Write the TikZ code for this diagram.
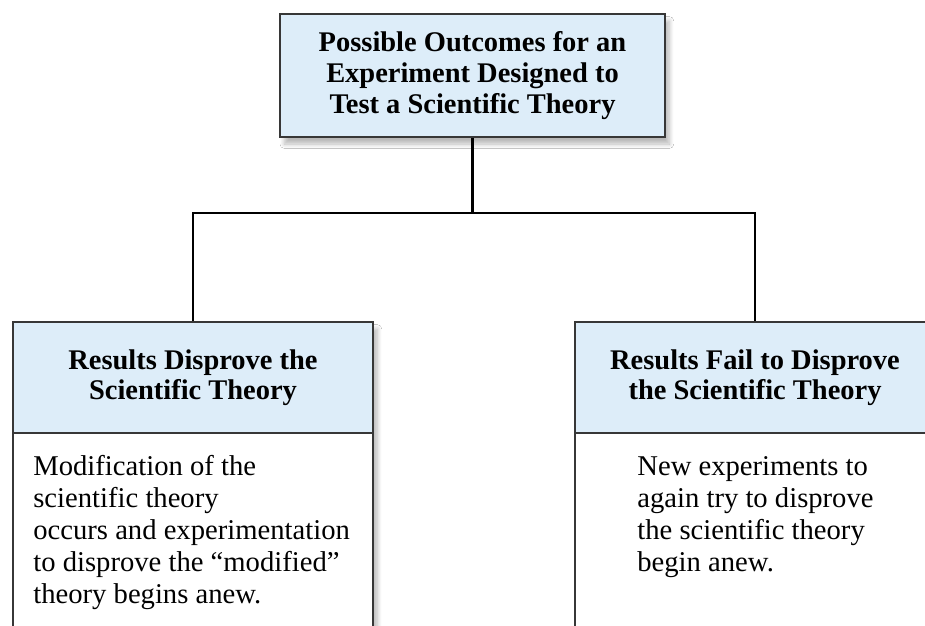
\documentclass[tikz,border=0pt]{standalone}
\usepackage{fontspec}
\setmainfont{Liberation Serif}
\usetikzlibrary{shadows.blur}

\definecolor{boxblue}{RGB}{221,237,249}
\definecolor{edgegray}{RGB}{55,55,55}

\begin{document}
\begin{tikzpicture}
	[x=0.02cm, y=-0.02cm,
	 boxshadow/.style={blur shadow={shadow xshift=2.5pt, shadow yshift=-4pt, shadow blur radius=2.5pt, shadow blur steps=8, shadow opacity=28}},
	 titlebox/.style={draw=edgegray, line width=1pt, fill=boxblue, align=center, inner sep=0pt, font=\fontsize{16.2}{17.4}\selectfont\bfseries},
	 bodybox/.style={draw=edgegray, line width=1pt, fill=white, inner sep=0pt},
	 bodytext/.style={align=left, anchor=north west, inner sep=0pt, font=\fontsize{16.3}{18.2}\selectfont},
	 link/.style={line width=1.4pt, black}]
	\useasboundingbox (0,0) rectangle (925,625);
	\clip (0,0) rectangle (925,625);
	\fill[white] (0,0) rectangle (925,625);

	% top question
	\node[titlebox, boxshadow, minimum width=7.7cm, minimum height=2.46cm] (outcomes) at (472.5,75.5)
		{Possible Outcomes for an\\Experiment Designed to\\Test a Scientific Theory};

	% the two results, body first and heading on top
	\node[bodybox, boxshadow, minimum width=7.2cm, minimum height=7.16cm] (disprovebody) at (193,501) {};
	\node[titlebox, minimum width=7.2cm, minimum height=2.22cm] (disprove) at (193,377.5)
		{Results Disprove the\\Scientific Theory};
	\node[bodybox, boxshadow, minimum width=7.2cm, minimum height=7.16cm] (failbody) at (755,501) {};
	\node[titlebox, minimum width=7.2cm, minimum height=2.22cm] (fail) at (755,377.5)
		{Results Fail to Disprove\\the Scientific Theory};

	\node[bodytext] (disprovetext) at (33,455)
		{Modification of the\\scientific theory\\occurs and experimentation\\to disprove the ``modified''\\theory begins anew.};
	\node[bodytext] (failtext) at (637,456)
		{New experiments to\\again try to disprove\\the scientific theory\\begin anew.};

	% connectors
	\coordinate (fork) at (472.5,213);
	\draw[link] (outcomes.south) -- (fork);
	\draw[link] (disprove.north) |- (fork) -| (fail.north);
\end{tikzpicture}
\end{document}
